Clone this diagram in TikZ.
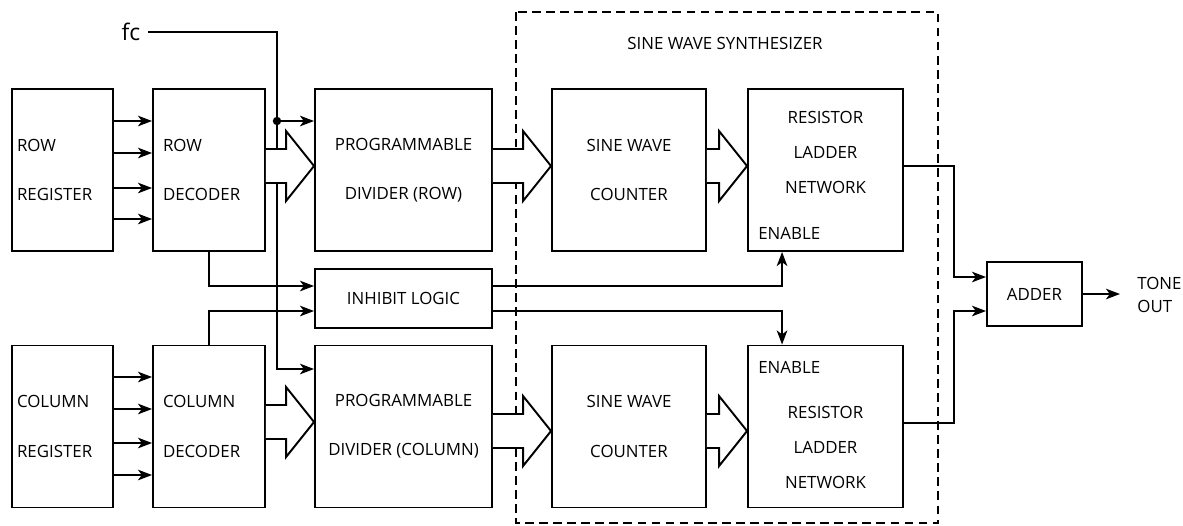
\documentclass[tikz,border=0pt]{standalone}
\usepackage{fontspec}
\setmainfont{Open Sans}
\usetikzlibrary{calc,arrows.meta}

\tikzset{
  blk/.style={draw, line width=1.1pt, minimum height=3.24cm, inner sep=0pt,
    font=\fontsize{9.6}{28}\selectfont, align=center},
  txt/.style={inner sep=0pt, font=\fontsize{9.6}{19.9}\selectfont, align=center},
  sig/.style={line width=1.1pt, -{Stealth[length=8pt,width=6pt,inset=2.2pt]}},
  bus/.style={line width=1.1pt, fill=white, line join=miter},
  frame/.style={line width=1pt, dash pattern=on 5pt off 3pt},
}

% wide bus arrow from box #1 to box #2 centred at height #3
\newcommand{\busarrow}[3]{%
  \path (#1.east |- 0,#3) coordinate (ba) (#2.west |- 0,#3) coordinate (bb);
  \draw[bus] ($(ba)+(0,-17)$) -| ($(bb)+(-28,-35)$) -- (bb)
    -- ($(bb)+(-28,35)$) |- ($(ba)+(0,17)$);
}

\begin{document}
\begin{tikzpicture}[x=0.02cm, y=-0.02cm]
\useasboundingbox (0,0) rectangle (1183,525);

% sine wave synthesizer frame
\draw[frame] (516,12) rectangle (938,523);
\node[txt] (synth) at (725,43) {SINE WAVE SYNTHESIZER};

% row channel
\node[blk, minimum width=2.02cm, text width=1.82cm, align=left] (regrow) at (62.5,170) {ROW\\REGISTER};
\node[blk, minimum width=2.24cm, text width=1.84cm, align=left] (decrow) at (209,170) {ROW\\DECODER};
\node[blk, minimum width=3.54cm] (divrow) at (403.5,170) {PROGRAMMABLE\\DIVIDER (ROW)};
\node[blk, minimum width=3.08cm] (swcrow) at (629,170) {SINE WAVE\\COUNTER};
\node[blk, minimum width=3.1cm] (rlnrow) at (825.5,170) {};
\node[txt] (rlnrowtxt) at (825.5,152) {RESISTOR\\LADDER\\NETWORK};
\node[txt, anchor=west] (enrow) at (758,233) {ENABLE};

% column channel
\node[blk, minimum width=2.02cm, text width=1.82cm, align=left] (regcol) at (62.5,426.5) {COLUMN\\REGISTER};
\node[blk, minimum width=2.24cm, text width=1.84cm, align=left] (deccol) at (209,426.5) {COLUMN\\DECODER};
\node[blk, minimum width=3.54cm] (divcol) at (403.5,426.5) {PROGRAMMABLE\\DIVIDER (COLUMN)};
\node[blk, minimum width=3.08cm] (swccol) at (629,426.5) {SINE WAVE\\COUNTER};
\node[blk, minimum width=3.1cm] (rlncol) at (825.5,426.5) {};
\node[txt] (rlncoltxt) at (825.5,447) {RESISTOR\\LADDER\\NETWORK};
\node[txt, anchor=west] (encol) at (758,367) {ENABLE};

\node[blk, minimum width=3.54cm, minimum height=1.18cm] (inhib) at (403.5,298.5) {INHIBIT LOGIC};
\node[blk, minimum width=1.9cm, minimum height=1.28cm] (adder) at (1034.5,294) {ADDER};
\node[txt, anchor=west, inner xsep=0.34cm, align=left, font=\fontsize{9.6}{13.6}\selectfont] (tone) at (1120,295) {TONE\\OUT};

% clock input
\node[inner sep=0.15cm, font=\fontsize{13}{15}\selectfont] (fc) at (131,32) {fc};
\coordinate (fcjoin) at (277,121);
\draw[sig] (fc.east) -| (fcjoin) |- (divcol.west |- 0,369);
\draw[sig] (fcjoin) -- (divrow.west |- fcjoin);
\fill (fcjoin) circle[radius=2.4pt];

% register to decoder lines
\foreach \y in {121,153,188,219}
  \draw[sig] (regrow.east |- 0,\y) -- (decrow.west |- 0,\y);
\foreach \y in {377,409,443,475}
  \draw[sig] (regcol.east |- 0,\y) -- (deccol.west |- 0,\y);

% inhibit logic
\draw[sig] (decrow.south) |- (inhib.west |- 0,286);
\draw[sig] (deccol.north) |- (inhib.west |- 0,311);
\draw[sig] (inhib.east |- 0,286) -| ($(rlnrow.south west)+(35,0)$);
\draw[sig] (inhib.east |- 0,311) -| ($(rlncol.north west)+(35,0)$);

% adder
\draw[sig] (rlnrow.east |- 0,166) -- ++(50,0) |- (adder.west |- 0,277);
\draw[sig] (rlncol.east |- 0,423) -- ++(50,0) |- (adder.west |- 0,311);
\draw[sig] (adder.east) -- (tone.west |- adder.east);

% buses
\busarrow{decrow}{divrow}{166}
\busarrow{divrow}{swcrow}{166}
\busarrow{swcrow}{rlnrow}{166}
\busarrow{deccol}{divcol}{422}
\busarrow{divcol}{swccol}{431}
\busarrow{swccol}{rlncol}{431}
\end{tikzpicture}
\end{document}
